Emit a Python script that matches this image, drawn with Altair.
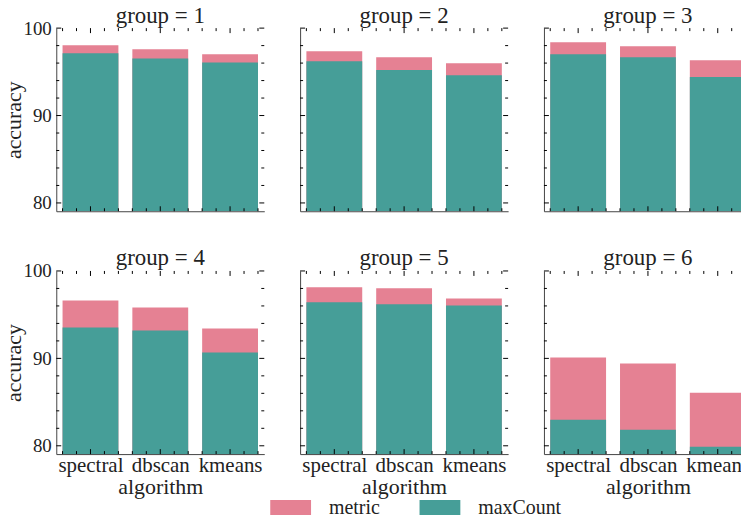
import altair as alt
import pandas as pd

# ---------------- data ----------------
algorithms = ["spectral", "dbscan", "kmeans"]
groups = [1, 2, 3, 4, 5, 6]
metric = [
    [98.03, 97.58, 97.00],
    [97.35, 96.67, 95.99],
    [98.38, 97.92, 96.33],
    [96.63, 95.83, 93.42],
    [98.13, 98.01, 96.86],
    [90.10, 89.41, 86.08],
]
max_count = [
    [97.12, 96.52, 96.07],
    [96.20, 95.20, 94.60],
    [97.00, 96.67, 94.40],
    [93.54, 93.19, 90.67],
    [96.41, 96.18, 96.06],
    [82.98, 81.84, 79.89],
]
series_names = ["metric", "maxCount"]
series_colors = ["#e58193", "#469e98"]

y_major = [80, 90, 100]
y_minor = [82, 84, 86, 88, 92, 94, 96, 98]
x_major = [0, 1, 2]
x_minor = [-0.4, -0.2, 0.2, 0.4, 0.6, 0.8, 1.2, 1.4, 1.6, 1.8, 2.2, 2.4]

Y_MIN, Y_MAX = 79.05, 100.0
X_MIN, X_MAX = -0.49, 2.49
BAR_HALF = 0.4

# ---------------- style ----------------
W, H = 209, 184
FONT = "Liberation Serif"
TXT = "#222222"
SPINE = "#444444"

xs = alt.Scale(domain=[X_MIN, X_MAX], nice=False, zero=False)
ys = alt.Scale(domain=[Y_MIN, Y_MAX], nice=False, zero=False)
label_expr = "[" + ",".join("'%s'" % a for a in algorithms) + "][round(datum.value)]"

legend = alt.Legend(
    title=None, orient="none", legendX=215, legendY=461, direction="horizontal",
    symbolType="M-1,-0.366H1V0.366H-1Z", symbolSize=1681, symbolStrokeWidth=0,
    symbolOpacity=1, labelFontSize=20, labelFont=FONT, labelColor=TXT,
    labelOffset=18, columnPadding=39,
)


def panel(i, show_y, show_x):
    rows = []
    for s_name, arr in zip(series_names, [metric, max_count]):
        for k, a in enumerate(algorithms):
            rows.append({"algorithm": a, "idx": k, "series": s_name, "value": arr[i][k]})
    df = pd.DataFrame(rows)

    xaxis = alt.Axis(
        values=x_major, labelExpr=label_expr, ticks=False, grid=False, domain=True,
        domainColor=SPINE, domainWidth=1, labels=show_x,
        title="algorithm" if show_x else None,
        labelFontSize=21, labelPadding=0, titleFontSize=22, titlePadding=2,
    )
    yaxis = alt.Axis(
        values=y_major, ticks=False, grid=False, domain=True,
        domainColor=SPINE, domainWidth=1, labels=show_y,
        title="accuracy" if show_y else None,
        labelFontSize=19, labelPadding=5, titleFontSize=22, titlePadding=-3,
    )

    bars = alt.Chart(df).transform_calculate(
        x0="datum.idx - %f" % BAR_HALF, x1="datum.idx + %f" % BAR_HALF
    ).mark_bar(clip=True).encode(
        x=alt.X("x0:Q", scale=xs, axis=xaxis),
        x2="x1:Q",
        y=alt.Y("value:Q", scale=ys, axis=yaxis),
        y2=alt.datum(Y_MIN),
        color=alt.Color("series:N", scale=alt.Scale(domain=series_names, range=series_colors),
                        legend=legend),
    )

    ymaj = pd.DataFrame({"v": y_major})
    ymin = pd.DataFrame({"v": y_minor})
    xmaj = pd.DataFrame({"v": x_major})
    xmin = pd.DataFrame({"v": x_minor})

    def yt(d, x0, x1):
        return alt.Chart(d).mark_rule(color="black", strokeWidth=1).encode(
            y=alt.Y("v:Q", scale=ys, axis=yaxis), x=alt.value(x0), x2=alt.value(x1))

    def xt(d, y0, y1):
        return alt.Chart(d).mark_rule(color="black", strokeWidth=1).encode(
            x=alt.X("v:Q", scale=xs, axis=xaxis), y=alt.value(y0), y2=alt.value(y1))

    ticks = [
        yt(ymaj, 0, 5), yt(ymin, 0, 3), yt(ymaj, W - 5, W), yt(ymin, W - 3, W),
        xt(xmaj, 0, 5), xt(xmin, 0, 3), xt(xmaj, H - 5, H), xt(xmin, H - 3, H),
    ]
    # panels with y labels have the "100" label poking above the plot; compensate
    off = -8.5 if show_y else 0
    return alt.layer(bars, *ticks).properties(
        width=W, height=H,
        title=alt.TitleParams("group = %d" % groups[i], fontSize=23, font=FONT,
                              fontWeight="normal", color=TXT, offset=off, anchor="middle",
                              frame="group"),
    )


row1 = alt.hconcat(panel(0, True, False), panel(1, False, False), panel(2, False, False), spacing=34)
row2 = alt.hconcat(panel(3, True, True), panel(4, False, True), panel(5, False, True), spacing=34)

chart = alt.vconcat(row1, row2, spacing=34).properties(
    padding={"left": -5.5, "top": -5, "right": -12, "bottom": 0}
).configure(font=FONT).configure_view(stroke=None).configure_axis(
    labelColor=TXT, titleColor=TXT, labelFont=FONT, titleFont=FONT, titleFontWeight="normal"
)

chart.save("out.html", embed_options={"renderer": "svg", "actions": False})
